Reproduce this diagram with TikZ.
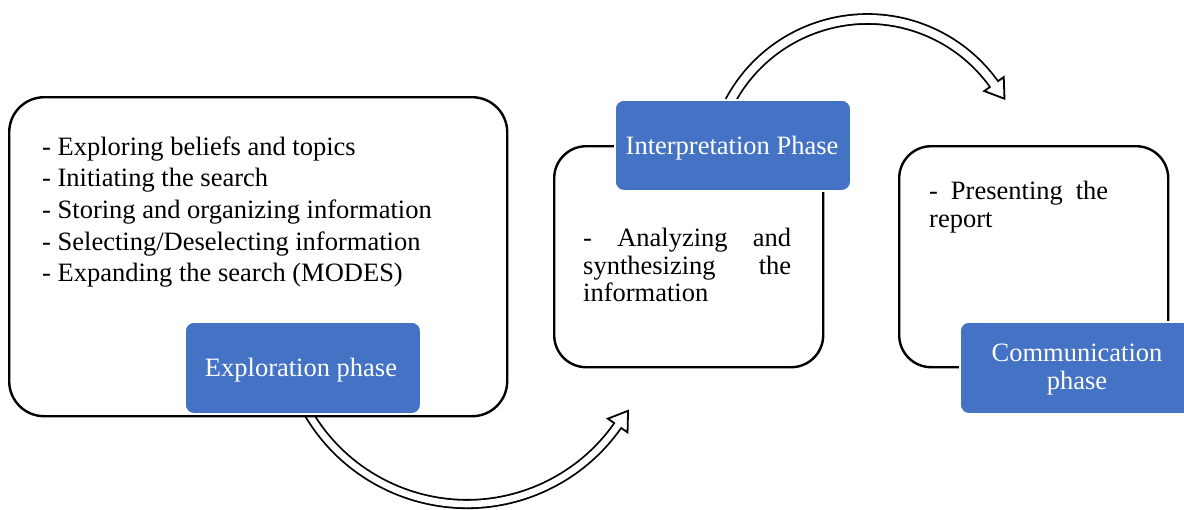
\documentclass[tikz,border=0pt]{standalone}
\usepackage{fontspec}
\setmainfont{Liberation Serif}
\usetikzlibrary{calc}
\definecolor{phaseblue}{HTML}{4472C4}

\newcommand{\bodyfont}{\fontsize{26.5}{27.5}\selectfont}
\newcommand{\listfont}{\fontsize{26.5}{31.7}\selectfont}

\begin{document}
\begin{tikzpicture}[x=1pt, y=-1pt,
  panel/.style={draw=black, line width=2.4pt, fill=white, rounded corners=32pt,
    anchor=north west, inner sep=0pt},
  phasebox/.style={rectangle, rounded corners=9pt, draw=white, line width=1.8pt,
    fill=phaseblue, anchor=north west, inner sep=0pt, minimum width=236pt},
  phasetext/.style={text=white, font=\bodyfont, anchor=base, inner sep=0pt},
  itemtext/.style={anchor=base west, inner sep=0pt},
  shaft/.style={draw=black, line width=1.8pt, double=white},
  head/.style={draw=black, line width=1.8pt, fill=white, line join=miter},
]
\useasboundingbox (0,0) rectangle (1184,509);

% ---- curved hollow arrows (drawn first, so the panels hide their tails)
% lower arrow: exploration -> interpretation
\coordinate (lc) at (467,320);
\coordinate (ls) at ($(lc)+(155:184)$);
\coordinate (le) at ($(lc)+(35:184)$);
\draw[shaft, double distance=6.5pt] (ls) arc[start angle=155, end angle=35, radius=184];
\draw[head] ($(le)+(35:12)$) -- ($(le)+(-55:18)$) -- ($(le)+(215:12)$) -- cycle;
\draw[white, line width=6.5pt] ($(le)+(-55:-1.3)$) -- ($(le)+(-55:1.3)$);

% upper arrow: interpretation -> communication
\coordinate (uc) at (867.4,174.7);
\coordinate (us) at ($(uc)+(-155:155.7)$);
\coordinate (ue) at ($(uc)+(-35.6:155.7)$);
\draw[shaft, double distance=8pt] (us) arc[start angle=-155, end angle=-35.6, radius=155.7];
\draw[head] ($(ue)+(-35.6:12)$) -- ($(ue)+(54.4:18)$) -- ($(ue)+(144.4:12)$) -- cycle;
\draw[white, line width=8pt] ($(ue)+(54.4:-1.3)$) -- ($(ue)+(54.4:1.3)$);

% ---- panels
\node[panel, minimum width=498pt, minimum height=319pt, rounded corners=35pt] (p1) at (8,96) {};
\node[panel, minimum width=269pt, minimum height=221pt] (p2) at (553,145) {};
\node[panel, minimum width=269pt, minimum height=221pt] (p3) at (898,145) {};

% ---- panel contents
\node[itemtext] (t1) at (42,155) {\parbox[t]{440pt}{\listfont\raggedright
  - Exploring beliefs and topics\\
  - Initiating the search\\
  - Storing and organizing information\\
  - Selecting/Deselecting information\\
  - Expanding the search (MODES)}};
\node[itemtext] (t2) at (583,246.7) {\parbox[t]{208pt}{\bodyfont
  - Analyzing and\linebreak synthesizing the\linebreak information}};
\node[itemtext] (t3) at (929,199.5) {\parbox[t]{179pt}{\bodyfont
  - Presenting the\linebreak report}};

% ---- phase labels
\node[phasebox, minimum height=92pt] (b1) at (184,321) {};
\node[phasebox, minimum height=91pt] (b2) at (614,99) {};
\node[phasebox, minimum height=92pt] (b3) at (959,321) {};
\node[phasetext] (l1) at (301,376.7) {Exploration phase};
\node[phasetext] (l2) at (732,154) {Interpretation Phase};
\node[phasetext] (l3) at (1077,361.7) {\parbox[t]{230pt}{\centering\bodyfont Communication\\ phase}};
\end{tikzpicture}
\end{document}
